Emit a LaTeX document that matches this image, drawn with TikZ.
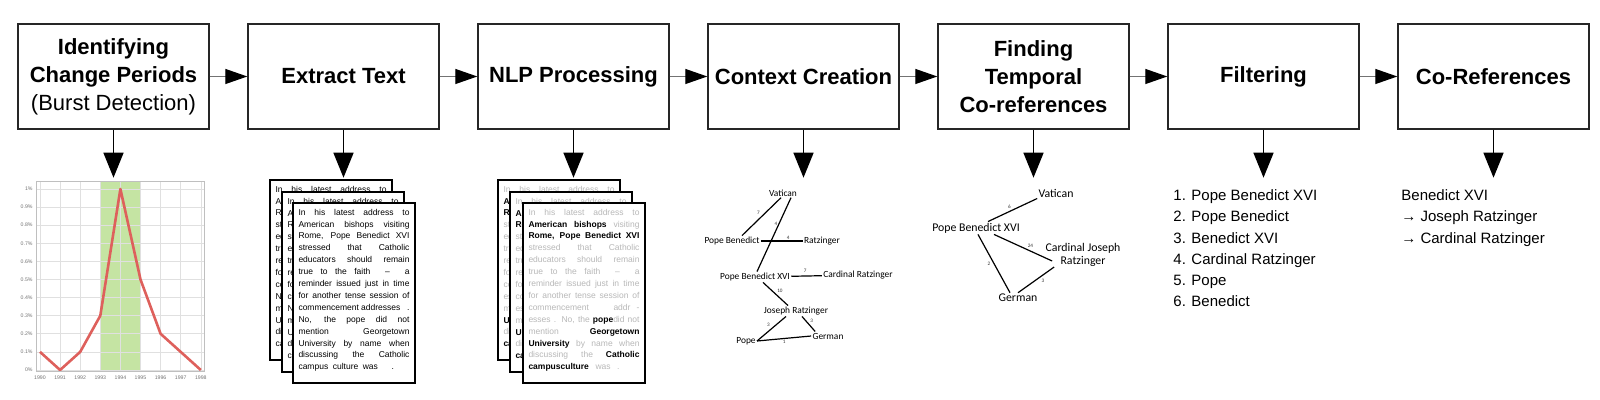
\documentclass[tikz,border=0pt]{standalone}
\usepackage{fontspec}
\usepackage{xcolor}
\usetikzlibrary{arrows.meta}
\usetikzlibrary{positioning}
\setmainfont{Liberation Sans}
\newfontfamily\calib{Carlito}
\definecolor{burst-green}{RGB}{197, 228, 163}
\definecolor{burst-red}{RGB}{222, 96, 92}
\newcommand\jl[1]{\makebox[\linewidth][s]{#1}\par}
\newcommand\hl[1]{\textbf{\color{black}#1}}
\newcommand\exttext{\fontsize{4.25}{5.95}\selectfont
\jl{In his latest address to}
\jl{American bishops visiting}
\jl{Rome, Pope Benedict XVI}
\jl{stressed that Catholic}
\jl{educators should remain}
\jl{true to the faith \ -- \ a}
\jl{reminder issued just in time}
\jl{for another tense session of}
\jl{commencement addresses \ \ .}
\jl{No, the pope did not}
\jl{mention Georgetown}
\jl{University by name when}
\jl{discussing the Catholic}
\makebox[0.86\linewidth][s]{campus culture was \ \ .}}
\newcommand\nlptext{\fontsize{4.25}{5.95}\selectfont\color{black!28}
\jl{In his latest address to}
\jl{\hl{American bishops} visiting}
\jl{\hl{Rome, Pope Benedict XVI}}
\jl{stressed that Catholic}
\jl{educators should remain}
\jl{true to the faith \ -- \ a}
\jl{reminder issued just in time}
\jl{for another tense session of}
\jl{commencement \ \ \ addr -}
\jl{esses . No, the \hl{pope}did not}
\jl{mention \hl{Georgetown}}
\jl{\hl{University} by name when}
\jl{discussing the \hl{Catholic}}
\makebox[0.82\linewidth][s]{\hl{campusculture} was .}}

\begin{document}
\begin{tikzpicture}[x=0.5pt, y=-0.5pt]
\tikzset{
  stage/.style={draw=black!85, line width=0.7pt, minimum width=95.5pt,
    minimum height=52.5pt, inner sep=1pt, align=center,
    font=\fontsize{11}{14}\selectfont\bfseries},
  flow/.style={draw=black!55, line width=0.6pt,
    -{Triangle[length=11pt,width=7.5pt,color=black]}},
  down/.style={draw=black, line width=0.75pt, -{Triangle[length=12.5pt,width=10pt]}},
  docpage/.style={draw=black, line width=1pt, fill=white, anchor=north west,
    inner xsep=2.75pt, inner ysep=3pt},
  grid/.style={draw=black!12, line width=0.3pt},
  ctx/.style={font=\calib\fontsize{4.7}{5}\selectfont, inner sep=0.5pt},
  tmp/.style={font=\calib\fontsize{5.9}{6.6}\selectfont, inner sep=0.5pt, align=center},
  elbl/.style={font=\calib\fontsize{2.6}{3}\selectfont, inner sep=0.6pt, text=black!80},
  edge/.style={line width=0.6pt},
  listtext/.style={anchor=north west, inner sep=0pt, align=left,
    font=\fontsize{7.5}{10.6}\selectfont},
}
\useasboundingbox (0,0) rectangle (1600,400);

% pipeline stages
\node[stage] (s1) at (113.5,76.5) {Identifying\\Change Periods\\{\mdseries(Burst Detection)}};
\node[stage, right=18.8pt of s1] (s2) {Extract Text};
\node[stage, right=18.8pt of s2] (s3) {NLP Processing};
\node[stage, right=18.8pt of s3] (s4) {Context Creation};
\node[stage, right=18.8pt of s4] (s5) {Finding\\Temporal\\Co-references};
\node[stage, right=18.8pt of s5] (s6) {Filtering};
\node[stage, right=18.8pt of s6] (s7) {Co-References};

\foreach \a/\b in {s1/s2, s2/s3, s3/s4, s4/s5, s5/s6, s6/s7}
  \draw[flow] (\a) -- (\b);
\foreach \s in {1,...,7} {
  \coordinate[below=24pt of s\s] (e\s);
  \draw[down] (s\s) -- (e\s);
}

% burst chart
\fill[burst-green] (100.4,181) rectangle (140.6,371);
\foreach \k in {0,...,10}
  \draw[grid] (36,{370-18.1*\k}) -- (204,{370-18.1*\k});
\foreach \i in {0,...,8}
  \draw[grid] ({40+20.1*\i},181) -- ({40+20.1*\i},371);
\draw[black!25, line width=0.3pt] (36,181) rectangle (204,371);
\begin{scope}[font=\fontsize{2.6}{3}\selectfont, text=black!55]
\foreach \k/\t in {0/0\%, 1/0.1\%, 2/0.2\%, 3/0.3\%, 4/0.4\%, 5/0.5\%,
                   6/0.6\%, 7/0.7\%, 8/0.8\%, 9/0.9\%, 10/1\%}
  \node[anchor=east, inner sep=0.5pt] at (34,{370-18.1*\k}) {\t};
\foreach \i in {0,...,8}
  \node[inner sep=0.5pt] at ({40+20.1*\i},378) {\the\numexpr1990+\i\relax};
\end{scope}
\draw[burst-red, line width=1.3pt, line join=round]
  (40,351.9) -- (60.1,370) -- (80.2,351.9) -- (100.3,315.7) -- (120.4,189)
  -- (140.5,279.5) -- (160.6,333.8) -- (180.7,351.9) -- (200.8,370);

% extracted documents
\node[docpage] (x1) at (269,179) {\parbox[t][84pt][t]{55.5pt}{\exttext}};
\node[docpage] (x2) at (281,191) {\parbox[t][84pt][t]{55.5pt}{\exttext}};
\node[docpage] (x3) at (292,202) {\parbox[t][84pt][t]{55.5pt}{\exttext}};

% processed documents
\node[docpage] (n1) at (497,179) {\parbox[t][84pt][t]{55.5pt}{\nlptext}};
\node[docpage] (n2) at (509,191) {\parbox[t][84pt][t]{55.5pt}{\nlptext}};
\node[docpage] (n3) at (522,202) {\parbox[t][84pt][t]{55.5pt}{\nlptext}};

% context graph
\node[ctx] (cvat) at (783,193) {Vatican};
\node[ctx] (cpb) at (732,241) {Pope Benedict};
\node[ctx] (crz) at (822,241) {Ratzinger};
\node[ctx] (cpbx) at (755,277) {Pope Benedict XVI};
\node[ctx] (ccr) at (858,275) {Cardinal Ratzinger};
\node[ctx] (cjr) at (796,311) {Joseph Ratzinger};
\node[ctx] (cpope) at (746,341) {Pope};
\node[ctx] (cger) at (828,336) {German};
\draw[edge] ([xshift=-1pt]cvat.south) -- node[elbl, above left] {7} ([xshift=5pt]cpb.north);
\draw[edge] ([xshift=4pt]cvat.south) -- node[elbl, pos=0.35, left] {4} ([xshift=1pt]cpbx.north);
\draw[edge] (cpb) -- node[elbl, pos=0.65, above] {4} (crz);
\draw[edge] (cpbx) -- node[elbl, pos=0.45, above=1pt] {7} (ccr);
\draw[edge] ([xshift=4pt]cpbx.south) -- node[elbl, above right] {10} ([xshift=-4pt]cjr.north);
\draw[edge] ([xshift=-5pt]cjr.south) -- node[elbl, above left] {3} (cpope.east);
\draw[edge] ([xshift=3pt]cjr.south) -- node[elbl, above right] {3} ([xshift=2pt]cger.north west);
\draw[edge] (cpope.east) -- node[elbl, below] {1} (cger.west);

% temporal co-reference graph
\node[tmp] (tvat) at (1056,193) {Vatican};
\node[tmp] (tpbx) at (976,228) {Pope Benedict XVI};
\node[tmp] (tcjr) at (1083,255) {Cardinal Joseph\\Ratzinger};
\node[tmp] (tger) at (1018,298) {German};
\draw[edge] (tvat.south west) -- node[elbl, above left] {6} ([xshift=6pt]tpbx.north);
\draw[edge] ([xshift=9pt]tpbx.south) -- node[elbl, pos=0.55, above right] {24} ([xshift=4pt,yshift=-3pt]tcjr.west);
\draw[edge] ([xshift=1pt]tpbx.south) -- node[elbl, left=1pt] {2} ([xshift=-4pt]tger.north);
\draw[edge] (tger.north) -- node[elbl, pos=0.6, below right] {3} ([xshift=5pt,yshift=-6pt]tcjr.west);

% result lists
\node[listtext] (flist) at (1173,189.5) {1. Pope Benedict XVI\\2. Pope Benedict\\3. Benedict XVI\\4. Cardinal Ratzinger\\5. Pope\\6. Benedict};
\node[listtext] (clist) at (1401,189.5) {Benedict XVI\\→ Joseph Ratzinger\\→ Cardinal Ratzinger};
\end{tikzpicture}
\end{document}
